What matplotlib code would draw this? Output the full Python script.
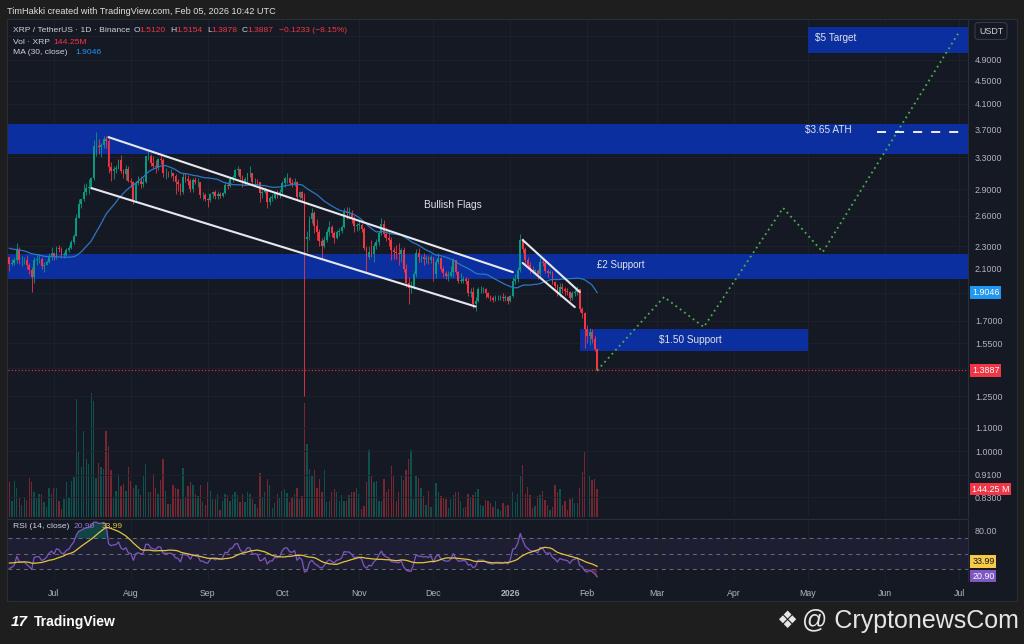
import numpy as np
import pandas as pd
import matplotlib.pyplot as plt
import matplotlib.dates as mdates
import matplotlib.transforms as mtrans
from matplotlib.patches import Rectangle
from matplotlib.ticker import NullLocator, NullFormatter

plt.rcParams['font.family'] = ['Liberation Sans', 'DejaVu Sans']

# XRP / TetherUS 1D (Binance)
start_day = '2025-06-13'
end_day = '2026-02-05'
first_open = 2.20

# 14 May - 12 Jun, only used to warm up MA(30) and RSI(14)
warmup_close = [2.36, 2.33, 2.30, 2.27, 2.33, 2.29, 2.31, 2.35, 2.37, 2.30,
                2.28, 2.30, 2.27, 2.29, 2.31, 2.25, 2.20, 2.23, 2.26, 2.29,
                2.28, 2.30, 2.24, 2.27, 2.25, 2.32, 2.31, 2.29, 2.26, 2.22]

close = [
    # Jun 13-30
    2.14, 2.15, 2.17, 2.26, 2.17, 2.17, 2.17, 2.13, 2.09, 2.03, 2.17, 2.18, 2.18, 2.12, 2.13, 2.16, 2.21, 2.24,
    # Jul
    2.20, 2.28, 2.27, 2.22, 2.22, 2.26, 2.28, 2.34, 2.40, 2.58, 2.73, 2.78, 2.86, 2.91, 2.93, 3.03,
    3.45, 3.46, 3.44, 3.47, 3.55, 3.53, 3.17, 3.12, 3.15, 3.16, 3.26, 3.12, 3.08, 3.14, 3.00,
    # Aug
    2.99, 2.77, 2.97, 3.00, 2.96, 2.99, 3.31, 3.32, 3.22, 3.19, 3.17, 3.27, 3.26, 3.09, 3.10, 3.09,
    3.10, 3.06, 2.98, 2.96, 2.86, 3.05, 3.02, 3.00, 2.90, 3.01, 2.98, 2.98, 2.83, 2.83, 2.78,
    # Sep
    2.77, 2.84, 2.86, 2.82, 2.84, 2.82, 2.85, 2.95, 2.94, 3.02, 3.04, 3.13, 3.14, 3.05, 2.99,
    3.02, 3.09, 3.09, 2.98, 2.99, 2.98, 2.85, 2.86, 2.90, 2.75, 2.80, 2.80, 2.86, 2.85, 2.87,
    # Oct
    2.97, 3.03, 3.03, 2.97, 2.96, 2.99, 2.81, 2.86, 2.80, 2.37, 2.39, 2.57, 2.63, 2.50, 2.44, 2.35,
    2.30, 2.36, 2.44, 2.49, 2.43, 2.38, 2.44, 2.45, 2.49, 2.64, 2.63, 2.63, 2.58, 2.50, 2.51,
    # Nov
    2.51, 2.47, 2.28, 2.20, 2.25, 2.23, 2.30, 2.34, 2.43, 2.52, 2.42, 2.38, 2.36, 2.26, 2.25,
    2.24, 2.23, 2.26, 2.10, 1.98, 1.94, 1.94, 2.05, 2.24, 2.20, 2.20, 2.18, 2.19, 2.17, 2.20,
    # Dec
    2.05, 2.16, 2.19, 2.10, 2.06, 2.04, 2.04, 2.07, 2.17, 2.07, 2.00, 2.00, 2.01, 2.00, 1.90, 1.91,
    1.82, 1.84, 1.93, 1.93, 1.93, 1.90, 1.87, 1.86, 1.85, 1.87, 1.87, 1.87, 1.86, 1.87, 1.84,
    # Jan
    1.88, 2.00, 2.01, 2.09, 2.36, 2.27, 2.17, 2.13, 2.09, 2.08, 2.08, 2.05, 2.16, 2.15, 2.08, 2.06,
    2.07, 1.99, 1.96, 1.90, 1.95, 1.93, 1.92, 1.91, 1.86, 1.90, 1.91, 1.93, 1.78, 1.75, 1.64,
    # Feb 1-5
    1.60, 1.62, 1.58, 1.512, 1.3887,
]

high = [
    2.20, 2.18, 2.20, 2.33, 2.29, 2.21, 2.20, 2.22, 2.15, 2.11, 2.20, 2.23, 2.23, 2.20, 2.16, 2.17, 2.24, 2.29,
    2.23, 2.30, 2.31, 2.29, 2.25, 2.28, 2.31, 2.36, 2.42, 2.62, 2.78, 2.79, 2.96, 2.97, 3.02, 3.05,
    3.54, 3.66, 3.55, 3.50, 3.60, 3.59, 3.56, 3.24, 3.18, 3.20, 3.28, 3.33, 3.15, 3.20, 3.18,
    3.03, 3.00, 3.00, 3.06, 3.06, 3.03, 3.32, 3.38, 3.34, 3.31, 3.26, 3.29, 3.33, 3.29, 3.16, 3.12,
    3.14, 3.10, 3.08, 3.02, 2.97, 3.09, 3.10, 3.07, 3.02, 3.03, 3.04, 3.03, 2.99, 2.86, 2.85,
    2.80, 2.85, 2.88, 2.89, 2.88, 2.86, 2.87, 2.98, 2.99, 3.04, 3.07, 3.15, 3.19, 3.15, 3.07,
    3.05, 3.10, 3.18, 3.10, 3.03, 3.02, 2.98, 2.92, 2.92, 2.90, 2.82, 2.84, 2.87, 2.89, 2.90,
    3.00, 3.05, 3.10, 3.04, 3.02, 3.03, 3.00, 2.88, 2.88, 2.85, 2.45, 2.60, 2.68, 2.65, 2.57, 2.47,
    2.38, 2.40, 2.47, 2.55, 2.51, 2.45, 2.46, 2.48, 2.51, 2.68, 2.70, 2.70, 2.66, 2.60, 2.53,
    2.56, 2.53, 2.49, 2.30, 2.30, 2.36, 2.33, 2.37, 2.45, 2.58, 2.56, 2.49, 2.44, 2.39, 2.29,
    2.31, 2.33, 2.28, 2.29, 2.14, 2.03, 2.00, 2.08, 2.27, 2.28, 2.22, 2.24, 2.22, 2.21, 2.22,
    2.20, 2.18, 2.24, 2.20, 2.12, 2.08, 2.08, 2.12, 2.19, 2.17, 2.08, 2.06, 2.04, 2.03, 2.02, 1.94,
    1.95, 1.87, 1.95, 1.96, 1.95, 1.94, 1.91, 1.89, 1.88, 1.89, 1.89, 1.89, 1.90, 1.89, 1.88,
    1.89, 2.03, 2.05, 2.11, 2.42, 2.38, 2.29, 2.20, 2.16, 2.12, 2.10, 2.10, 2.19, 2.18, 2.17, 2.10,
    2.09, 2.08, 2.00, 1.97, 1.98, 1.98, 1.95, 1.94, 1.92, 1.92, 1.93, 1.96, 1.93, 1.80, 1.76,
    1.67, 1.65, 1.64, 1.60, 1.5154,
]

low = [
    2.08, 2.12, 2.13, 2.15, 2.14, 2.12, 2.14, 2.10, 2.05, 1.91, 1.98, 2.13, 2.15, 2.10, 2.07, 2.13, 2.15, 2.17,
    2.17, 2.18, 2.25, 2.19, 2.19, 2.21, 2.25, 2.27, 2.32, 2.40, 2.58, 2.68, 2.76, 2.83, 2.84, 2.90,
    3.01, 3.31, 3.35, 3.30, 3.42, 3.42, 3.10, 3.00, 3.02, 3.10, 3.14, 3.10, 3.03, 3.01, 2.98,
    2.93, 2.73, 2.75, 2.95, 2.91, 2.92, 2.97, 3.26, 3.19, 3.16, 3.10, 3.13, 3.21, 3.04, 3.02, 3.05,
    3.05, 3.00, 2.84, 2.88, 2.83, 2.84, 2.98, 2.95, 2.87, 2.86, 2.96, 2.92, 2.80, 2.77, 2.76,
    2.70, 2.75, 2.80, 2.78, 2.79, 2.80, 2.81, 2.84, 2.90, 2.92, 2.98, 3.03, 3.07, 3.02, 2.93,
    2.95, 2.99, 3.05, 2.96, 2.96, 2.95, 2.75, 2.80, 2.85, 2.69, 2.72, 2.76, 2.79, 2.80, 2.80,
    2.84, 2.93, 2.97, 2.95, 2.92, 2.94, 2.79, 2.78, 2.76, 1.25, 2.25, 2.36, 2.53, 2.43, 2.36, 2.30,
    2.19, 2.28, 2.34, 2.40, 2.39, 2.33, 2.37, 2.40, 2.43, 2.48, 2.57, 2.58, 2.53, 2.44, 2.45,
    2.46, 2.44, 2.26, 2.07, 2.18, 2.20, 2.16, 2.27, 2.31, 2.41, 2.39, 2.35, 2.30, 2.17, 2.18,
    2.18, 2.13, 2.16, 2.07, 1.95, 1.82, 1.90, 1.93, 2.03, 2.16, 2.16, 2.13, 2.15, 2.14, 2.15,
    2.00, 2.02, 2.14, 2.08, 2.03, 2.01, 2.00, 2.03, 2.03, 2.05, 1.98, 1.98, 1.98, 1.97, 1.88, 1.87,
    1.79, 1.77, 1.83, 1.90, 1.90, 1.86, 1.86, 1.84, 1.83, 1.84, 1.85, 1.85, 1.84, 1.84, 1.82,
    1.83, 1.87, 1.97, 1.99, 2.07, 2.24, 2.14, 2.10, 2.06, 2.06, 2.05, 2.01, 2.03, 2.12, 2.06, 2.03,
    2.05, 1.97, 1.94, 1.88, 1.87, 1.90, 1.89, 1.89, 1.84, 1.85, 1.88, 1.89, 1.76, 1.72, 1.52,
    1.55, 1.54, 1.55, 1.50, 1.3878,
]

# daily volume, millions of XRP
volume_m = [
    180, 80, 185, 150, 98, 60, 100, 90, 200, 180, 130, 98, 120, 120, 75, 50, 150, 120, 150, 150,
    80, 40, 95, 180, 105, 185, 205, 610, 340, 260, 443, 300, 275, 640, 600, 200, 280, 260, 250, 443,
    365, 240, 98, 135, 220, 160, 170, 135, 260, 185, 150, 165, 145, 115, 210, 275, 130, 128, 220, 150,
    120, 190, 300, 135, 68, 68, 165, 150, 145, 95, 255, 105, 160, 180, 165, 120, 110, 165, 75, 62,
    180, 135, 95, 95, 120, 35, 85, 120, 115, 80, 115, 130, 115, 78, 120, 78, 128, 120, 95, 68,
    46, 225, 100, 128, 195, 165, 46, 70, 118, 100, 135, 145, 125, 75, 105, 118, 150, 95, 110, 586,
    375, 250, 218, 240, 150, 195, 130, 240, 75, 85, 130, 145, 130, 85, 115, 85, 85, 115, 128, 128,
    150, 118, 42, 55, 180, 345, 210, 180, 185, 85, 85, 195, 130, 145, 265, 218, 85, 130, 213, 190,
    240, 298, 345, 95, 210, 200, 150, 110, 62, 135, 50, 55, 175, 130, 110, 100, 95, 46, 95,
    115, 128, 128, 80, 46, 50, 118, 105, 115, 130, 145, 62, 55, 90, 80, 70, 50, 80, 40, 32,
    70, 55, 62, 42, 128, 78, 118, 210, 270, 118, 155, 115, 46, 55, 110, 115, 135, 90, 62, 35,
    50, 165, 128, 145, 62, 80, 35, 95, 105, 70, 70, 150, 230, 333, 183, 218, 190, 195, 144.25,
]

month_ticks = ['2025-07-01', '2025-08-01', '2025-09-01', '2025-10-01', '2025-11-01', '2025-12-01',
               '2026-01-01', '2026-02-01', '2026-03-01', '2026-04-01', '2026-05-01', '2026-06-01',
               '2026-07-01']
month_labels = ['Jul', 'Aug', 'Sep', 'Oct', 'Nov', 'Dec', '2026', 'Feb', 'Mar', 'Apr', 'May', 'Jun', 'Jul']
price_ticks = [0.83, 0.91, 1.0, 1.1, 1.25, 1.4, 1.55, 1.7, 1.9, 2.1, 2.3, 2.6, 2.9, 3.3, 3.7, 4.1, 4.5, 4.9, 5.4]
hidden_ticks = [1.4, 1.9, 5.4]

# drawings on the chart
zone_ath = (3.344, 3.777)
zone_2 = (2.013, 2.228)
zone_150 = ('2026-01-29', '2026-05-01', 1.502, 1.643)
zone_5 = ('2026-05-01', '2026-07-06', 5.04, 5.60)
chan_upper = (['2025-07-23', '2026-01-02'], [3.58, 2.07])
chan_lower = (['2025-07-16', '2025-12-18'], [2.912, 1.80])
flag_upper = (['2026-01-06', '2026-01-29'], [2.358, 1.909])
flag_lower = (['2026-01-06', '2026-01-27'], [2.148, 1.796])
proj_dates = ['2026-02-05', '2026-03-04', '2026-03-20', '2026-04-21', '2026-05-07', '2026-07-01']
proj_prices = [1.3887, 1.871, 1.656, 2.686, 2.246, 5.49]
ath_dash = (['2026-05-29', '2026-07-02'], 3.65)

GREEN = '#089981'
RED = '#f23645'
BG = '#151924'
GRID = '#1d212b'
TXT = '#b2b5be'
ZONE = '#0b2f9f'
W, H = 1024, 644


def box(l, t, r, b):
    return [l / W, 1 - b / H, (r - l) / W, (b - t) / H]


def d(s):
    return mdates.date2num(pd.Timestamp(s))


fig = plt.figure(figsize=(W / 100, H / 100), dpi=100, facecolor='#1e1e1e')


def ftext(xp, yp, s, **kw):
    kw.setdefault('va', 'center')
    return fig.text(xp / W, 1 - yp / H, s, **kw)


# chart panel background
ax_bg = fig.add_axes(box(7, 19, 1017, 601))
ax_bg.set_facecolor(BG)
ax_bg.set_xticks([]); ax_bg.set_yticks([])
for sp in ax_bg.spines.values():
    sp.set_color('#2a2e39')
ax_bg.set_zorder(0)

dates = pd.date_range(start_day, end_day, freq='D')
x = mdates.date2num(dates)
c = np.array(close)
o = np.concatenate([[first_open], c[:-1]])
hi = np.maximum(np.array(high), np.maximum(o, c))
lo = np.minimum(np.array(low), np.minimum(o, c))
up = c >= o
cols = np.where(up, GREEN, RED)

full = pd.Series(warmup_close + close)
ma30 = full.rolling(30).mean().to_numpy()[len(warmup_close):]
delta = full.diff()
gain = delta.clip(lower=0).ewm(alpha=1 / 14, adjust=False).mean()
loss = (-delta.clip(upper=0)).ewm(alpha=1 / 14, adjust=False).mean()
rsi_full = 100 - 100 / (1 + gain / loss)
rsi_ma_full = rsi_full.rolling(14).mean()
rsi = rsi_full.to_numpy()[len(warmup_close):]
rsi_ma = rsi_ma_full.to_numpy()[len(warmup_close):]

jul1 = d('2025-07-01')
xmin = jul1 + (8 - 54) / 2.48
xmax = jul1 + (968 - 54) / 2.48

# ---- price panel
ax = fig.add_axes(box(8, 20, 968, 517))
ax_v = ax.twinx()
ax.set_zorder(3); ax_v.set_zorder(2)
ax.patch.set_visible(False)

ax.set_yscale('log')
ax.set_ylim(0.766, 5.76)
ax.set_xlim(xmin, xmax)
ax.yaxis.set_minor_locator(NullLocator())
ax.yaxis.set_minor_formatter(NullFormatter())
ax.set_yticks(price_ticks)
ax.set_yticklabels(['' if t in hidden_ticks else f'{t:.4f}' for t in price_ticks])
ax.yaxis.tick_right()
ax.tick_params(axis='y', length=0, pad=5, labelsize=6.4, labelcolor=TXT)
ax.set_xticks([d(m) for m in month_ticks])
ax.tick_params(axis='x', length=0, labelbottom=False)
ax.grid(True, color=GRID, lw=0.7, zorder=0)
for sp in ['top', 'left', 'bottom']:
    ax.spines[sp].set_visible(False)
ax.spines['right'].set_color('#2a2e39')

# zones
ax.axhspan(*zone_ath, color=ZONE, zorder=2, lw=0)
ax.axhspan(*zone_2, color=ZONE, zorder=2, lw=0)
for z in (zone_150, zone_5):
    ax.add_patch(Rectangle((d(z[0]), z[2]), d(z[1]) - d(z[0]), z[3] - z[2],
                           color=ZONE, zorder=2, lw=0))

# volume
ax_v.bar(x, volume_m, width=0.55, color=cols, alpha=0.45, lw=0)
ax_v.set_ylim(0, 497 / 0.194)
ax_v.set_xlim(xmin, xmax)
ax_v.axis('off')

# candles
ax.vlines(x, lo, hi, colors=cols, lw=0.6, zorder=4)
ax.bar(x, np.maximum(np.abs(c - o), 0.004), bottom=np.minimum(o, c), width=0.75,
       color=cols, lw=0, zorder=5)
ax.plot(x, ma30, color='#2a78c4', lw=0.9, zorder=6)

# channels / flags
for dd, pp in (chan_upper, chan_lower, flag_upper, flag_lower):
    ax.plot([d(t) for t in dd], pp, color='#e6e8ee', lw=1.5, zorder=7, solid_capstyle='round')
ax.plot([d(t) for t in proj_dates], proj_prices, color='#4caf50', lw=1.3,
        ls=(0, (1, 2)), zorder=7)
ax.plot([d(t) for t in ath_dash[0]], [ath_dash[1]] * 2, color='white', lw=1.3,
        ls=(0, (5, 5)), zorder=7)
ax.axhline(1.3887, color=RED, lw=0.8, ls=(0, (1, 2)), zorder=6)

tcol = '#e0e3eb'
ax.text(d('2025-12-09'), 2.72, 'Bullish Flags', color=tcol, fontsize=7.3, ha='center', va='center', zorder=8)
ax.text(d('2026-02-05'), 2.13, '£2 Support', color=tcol, fontsize=7.0, ha='left', va='center', zorder=8)
ax.text(d('2026-03-02'), 1.571, '$1.50 Support', color=tcol, fontsize=7.2, ha='left', va='center', zorder=8)
ax.text(d('2026-05-04'), 5.36, '$5 Target', color=tcol, fontsize=7.2, ha='left', va='center', zorder=8)
ax.text(d('2026-04-30'), 3.69, '$3.65 ATH', color=tcol, fontsize=7.2, ha='left', va='center', zorder=8)

# price labels on the right axis
blend = mtrans.blended_transform_factory(ax.transAxes, ax.transData)
for val, txt, fc in ((1.9046, '1.9046', '#2196f3'), (1.3887, '1.3887', RED)):
    ax.text(1.0 + 4 / 960, val, txt, transform=blend, fontsize=6.4, color='white', ha='left',
            va='center', zorder=10, clip_on=False,
            bbox=dict(boxstyle='square,pad=0.22', fc=fc, ec='none'))
blend_v = mtrans.blended_transform_factory(ax_v.transAxes, ax_v.transData)
ax_v.text(1.0 + 4 / 960, volume_m[-1], '144.25 M', transform=blend_v, fontsize=6.4, color='white',
          ha='left', va='center', zorder=10, clip_on=False,
          bbox=dict(boxstyle='square,pad=0.22', fc=RED, ec='none'))
ftext(991, 31, 'USDT', color='#d1d4dc', fontsize=6.4, ha='center',
      bbox=dict(boxstyle='round,pad=0.45,rounding_size=0.4', fc=BG, ec='#363a45', lw=0.8))

# ---- RSI panel
ax_r = fig.add_axes(box(8, 519, 968, 581))
ax_r.patch.set_visible(False)
ax_r.set_zorder(3)
ax_r.set_xlim(xmin, xmax)
ax_r.set_ylim(14.4, 95.1)
ax_r.axhspan(30, 70, color='#7e57c2', alpha=0.09, lw=0)
for lv in (70, 50, 30):
    ax_r.axhline(lv, color='#6a6d78', lw=0.7, ls=(0, (4, 4)))
ax_r.fill_between(x, rsi, 70, where=rsi > 70, interpolate=True, color=GREEN, alpha=0.35, lw=0)
ax_r.fill_between(x, rsi, 30, where=rsi < 30, interpolate=True, color=RED, alpha=0.35, lw=0)
ax_r.plot(x, rsi, color='#7e57c2', lw=0.9)
ax_r.plot(x, rsi_ma, color='#e4c441', lw=0.9)
ax_r.set_yticks([80])
ax_r.set_yticklabels(['80.00'])
ax_r.yaxis.tick_right()
ax_r.tick_params(axis='y', length=0, pad=5, labelsize=6.4, labelcolor=TXT)
ax_r.set_xticks([d(m) for m in month_ticks])
ax_r.set_xticklabels(month_labels)
ax_r.tick_params(axis='x', length=0, pad=6, labelsize=6.3, labelcolor=TXT)
ax_r.get_xticklabels()[6].set_fontweight('bold')
ax_r.grid(True, axis='x', color=GRID, lw=0.7)
for sp in ['left', 'bottom']:
    ax_r.spines[sp].set_visible(False)
ax_r.spines['top'].set_color('#2a2e39')
ax_r.spines['right'].set_color('#2a2e39')
for val, txt, fc, tc, dy in ((33.99, '33.99', '#f7c948', '#131722', 3), (20.90, '20.90', '#7e57c2', 'white', 0)):
    ax_r.annotate(txt, (1.0, val), xycoords=('axes fraction', 'data'), xytext=(3, dy),
                  textcoords='offset points', fontsize=6.4, color=tc, ha='left', va='center',
                  annotation_clip=False, zorder=10,
                  bbox=dict(boxstyle='square,pad=0.22', fc=fc, ec='none'))

# ---- header, legend, footer
ftext(7, 11, 'TimHakki created with TradingView.com, Feb 05, 2026 10:42 UTC', color='#e0e0e0', fontsize=6.6)
lg = '#d1d4dc'
fs = 6.1
ftext(13, 30, 'XRP / TetherUS · 1D · Binance', color=lg, fontsize=fs)
for xp, lab, xv, val in ((134, 'O', 139, '1.5120'), (170, 'H', 176, '1.5154'),
                         (207, 'L', 211, '1.3878'), (242, 'C', 247, '1.3887')):
    ftext(xp, 30, lab, color=lg, fontsize=fs)
    ftext(xv, 30, val, color=RED, fontsize=fs)
ftext(279, 30, '−0.1233 (−8.15%)', color=RED, fontsize=fs)
ftext(13, 42, 'Vol · XRP', color=lg, fontsize=fs)
ftext(53, 42, '144.25M', color=RED, fontsize=fs)
ftext(13, 53, 'MA (30, close)', color=lg, fontsize=fs)
ftext(75, 53, '1.9046', color='#2196f3', fontsize=fs)
ftext(13, 527, 'RSI (14, close)', color=lg, fontsize=fs, zorder=11)
ftext(74, 527, '20.90', color='#9575cd', fontsize=fs, zorder=11)
ftext(102, 527, '33.99', color='#e4c441', fontsize=fs, zorder=11)

ftext(11, 622, '17', color='white', fontsize=11, fontweight='bold', style='italic')
ftext(34, 622, 'TradingView', color='white', fontsize=10, fontweight='bold')
ftext(787, 621, '❖', color='#e6e6e6', fontsize=17, ha='center', family=['DejaVu Sans'])
ftext(802, 621, '@ CryptonewsCom', color='#e6e6e6', fontsize=18)

fig.savefig('out.png', dpi=100, facecolor=fig.get_facecolor())
